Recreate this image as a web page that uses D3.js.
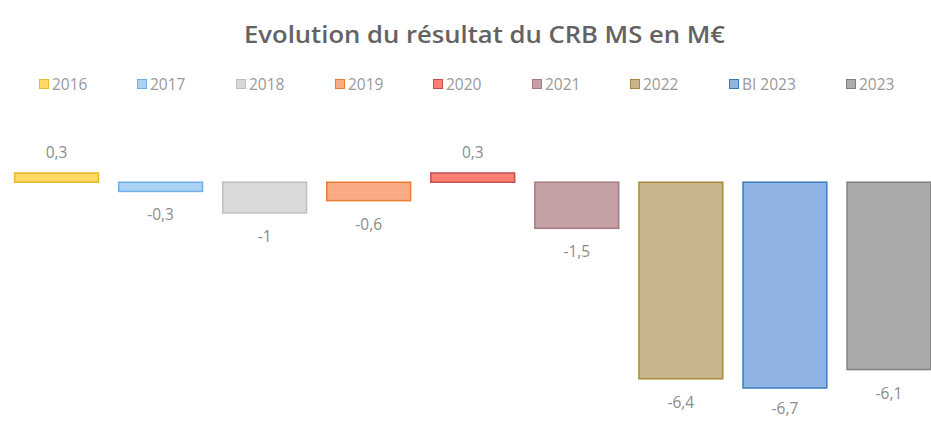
<!DOCTYPE html>
<html><head><meta charset="utf-8">
<script src="https://cdn.jsdelivr.net/npm/d3@7/dist/d3.min.js"></script>
<style>body{margin:0;background:#fff;} svg{display:block;}</style>
</head><body>
<svg id="c" width="931" height="421"></svg>
<script>
const categories = ["2016","2017","2018","2019","2020","2021","2022","BI 2023","2023"];
const values = [0.3,-0.3,-1,-0.6,0.3,-1.5,-6.4,-6.7,-6.1];
const labels = ["0,3","-0,3","-1","-0,6","0,3","-1,5","-6,4","-6,7","-6,1"];
const fills = ["#ffd966","#a9d2f5","#d9d9d9","#f8ab85","#ff8070","#c4a0a4","#c8b48c","#8fb4e3","#aaaaaa"];
const strokes = ["#e8b828","#6faee6","#bfbfbf","#ed7d31","#c0504d","#a47a7f","#a88a3e","#3a7cc3","#7f7f7f"];
const legendX = [39,137,236,335,433,532,630,729,846];

const svg = d3.select("#c");

svg.append("text").attr("x",484.5).attr("y",43).attr("text-anchor","middle")
  .attr("font-family","Open Sans, sans-serif").attr("font-size",24).attr("font-weight",600)
  .attr("fill","#636363").attr("textLength",481).attr("lengthAdjust","spacingAndGlyphs")
  .text("Evolution du résultat du CRB MS en M€");

const x = d3.scaleBand().domain(categories).range([4.5,941]).paddingInner(0.185).paddingOuter(0.0925);
const y = d3.scaleLinear().domain([-6.7,0.3]).range([388,173]);

const lg = svg.append("g");
categories.forEach((c,i)=>{
  lg.append("rect").attr("x",legendX[i]+0.5).attr("y",79.5).attr("width",9).attr("height",9)
    .attr("fill",fills[i]).attr("stroke",strokes[i]).attr("stroke-width",1);
  lg.append("text").attr("x",legendX[i]+13).attr("y",90).attr("font-family","Open Sans, sans-serif")
    .attr("font-size",15.5).attr("fill","#999999").text(c);
});

const g = svg.append("g");
g.selectAll("rect.bar").data(values).join("rect").attr("class","bar")
  .attr("x",(d,i)=>x(categories[i])+0.5)
  .attr("y",d=>y(Math.max(0,d)))
  .attr("width",x.bandwidth()-1)
  .attr("height",d=>Math.abs(y(d)-y(0)))
  .attr("fill",(d,i)=>fills[i]).attr("stroke",(d,i)=>strokes[i]).attr("stroke-width",1.5);

g.selectAll("text.lab").data(values).join("text").attr("class","lab")
  .attr("x",(d,i)=>x(categories[i])+x.bandwidth()/2)
  .attr("y",d=> d>=0 ? y(d)-15 : Math.min(y(d)+29, 414))
  .attr("text-anchor","middle").attr("font-family","Open Sans, sans-serif")
  .attr("font-size",15.5).attr("fill","#8c8c8c").text((d,i)=>labels[i]);
</script>
</body></html>
